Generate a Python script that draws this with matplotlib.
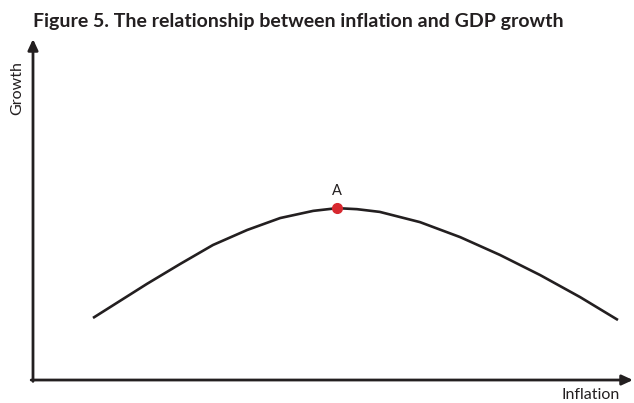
import matplotlib
matplotlib.use("Agg")
import matplotlib.pyplot as plt

# curve (inflation, growth) in arbitrary units
inflation = [10.0, 14.5, 19.0, 24.5, 30.0, 35.7, 41.2, 46.7, 50.7,
             54.0, 57.8, 64.5, 71.2, 77.8, 84.5, 91.2, 97.5]
growth = [18.2, 23.2, 28.2, 34.0, 39.6, 44.0, 47.5, 49.6, 50.4,
          50.1, 49.3, 46.3, 41.9, 36.7, 30.8, 24.3, 17.6]
peak_x = [50.7]
peak_y = [50.4]
peak_label = "A"

title = "Figure 5. The relationship between inflation and GDP growth"
xlabel = "Inflation"
ylabel = "Growth"

plt.rcParams['font.family'] = ['Lato', 'DejaVu Sans']
dark = '#231f20'
red = '#d7282f'

W, H = 634, 403
fig = plt.figure(figsize=(W / 100, H / 100), dpi=100)
ax = fig.add_axes([0, 0, 1, 1])
ax.set_xlim(-5.5, 100.17)
ax.set_ylim(-6.74, 111.44)
ax.axis('off')

# axes with arrow heads
ax.annotate('', xy=(100, 0), xytext=(-0.3, 0),
            arrowprops=dict(arrowstyle='-|>,head_length=0.65,head_width=0.3', color=dark, lw=2, shrinkA=0, shrinkB=0))
ax.annotate('', xy=(0, 100), xytext=(0, -0.4),
            arrowprops=dict(arrowstyle='-|>,head_length=0.65,head_width=0.3', color=dark, lw=2, shrinkA=0, shrinkB=0))

ax.plot(inflation, growth, color=dark, lw=1.9, solid_capstyle='butt', solid_joinstyle='round')
ax.plot(peak_x, peak_y, 'o', color=red, ms=7, zorder=3)
ax.annotate(peak_label, xy=(peak_x[0], peak_y[0]), xytext=(0, 7), textcoords='offset points',
            ha='center', va='bottom', fontsize=10.5, color=dark)

fig.text(33 / W, 1 - 27 / H, title, fontsize=14, fontweight='bold', color=dark, ha='left', va='baseline')
fig.text(591 / W, 1 - 395 / H, xlabel, fontsize=11.5, color=dark, ha='center', va='center')
fig.text(17 / W, 1 - 88 / H, ylabel, fontsize=11.5, color=dark, ha='center', va='center', rotation=90)

fig.savefig('out.png', dpi=100, facecolor='white')
